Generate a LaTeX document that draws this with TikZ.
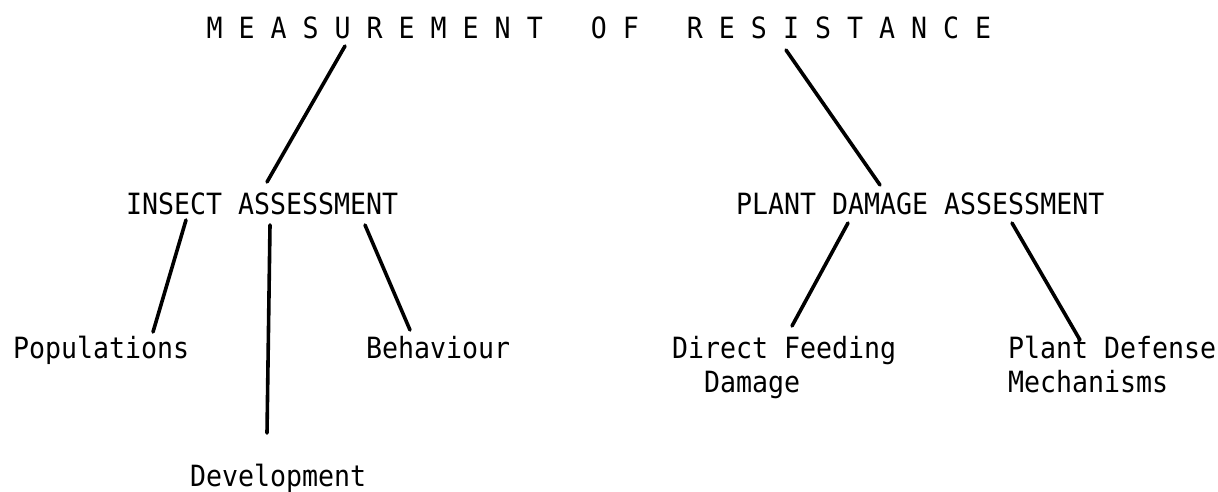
\documentclass[tikz,border=0pt]{standalone}
\usepackage{fontspec}
\usepackage{graphicx}
\newfontfamily\typewriter{DejaVu Sans Mono}
\newcommand\tallline[1]{\scalebox{1}[1.1]{#1}}
\begin{document}
\begin{tikzpicture}[x=1pt,y=-1pt,
  lbl/.style={anchor=base west,inner sep=0pt,outer sep=0pt,align=left,
    font=\typewriter\fontsize{26.6}{34}\selectfont},
  link/.style={line width=3.6pt,line cap=round}]
\useasboundingbox[fill=white] (0,0) rectangle (1218,491);
% nodes
\node[lbl] (title) at (206.5,38) {\tallline{M~E~A~S~U~R~E~M~E~N~T~~~O~F~~~R~E~S~I~S~T~A~N~C~E}};
\node[lbl] (insect) at (126,214) {\tallline{INSECT ASSESSMENT}};
\node[lbl] (plant) at (736,214) {\tallline{PLANT DAMAGE ASSESSMENT}};
\node[lbl] (pop) at (13,358) {\tallline{Populations}};
\node[lbl] (beh) at (366,358) {\tallline{Behaviour}};
\node[lbl] (dev) at (190,486) {\tallline{Development}};
\node[lbl] (dfd) at (672,392) {\tallline{Direct Feeding}\\\tallline{~~Damage}};
\node[lbl] (pdm) at (1008,392) {\tallline{Plant Defense}\\\tallline{Mechanisms}};
% connector end points
\coordinate (title-l) at (345,46);
\coordinate (title-r) at (786,50);
\coordinate (insect-t) at (267,182);
\coordinate (plant-t) at (880,185);
\coordinate (insect-bl) at (186,220);
\coordinate (insect-bm) at (270,225);
\coordinate (insect-br) at (365,225);
\coordinate (pop-t) at (153,332);
\coordinate (dev-t) at (267,433);
\coordinate (beh-t) at (410,330);
\coordinate (plant-bl) at (848,223);
\coordinate (plant-br) at (1012,223);
\coordinate (dfd-t) at (792,326);
\coordinate (pdm-t) at (1080,340);
% connectors
\draw[link] (title-l) -- (insect-t);
\draw[link] (title-r) -- (plant-t);
\draw[link] (insect-bl) -- (pop-t);
\draw[link] (insect-bm) -- (dev-t);
\draw[link] (insect-br) -- (beh-t);
\draw[link] (plant-bl) -- (dfd-t);
\draw[link] (plant-br) -- (pdm-t);
\end{tikzpicture}
\end{document}
